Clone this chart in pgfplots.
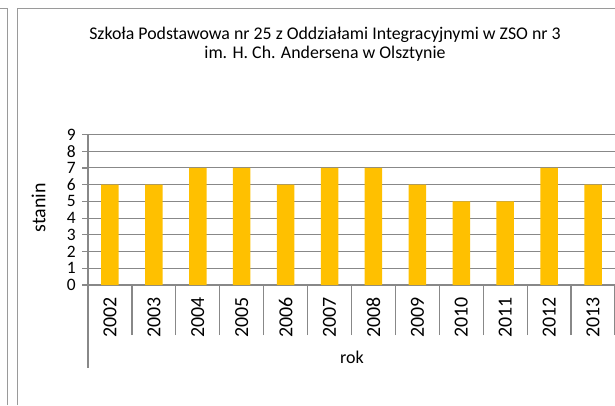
\documentclass[border=0pt]{standalone}
\usepackage{pgfplots}
\pgfplotsset{compat=1.18}
\usepackage{fontspec}
\setmainfont{Carlito}
\definecolor{bargold}{HTML}{FFC000}
\definecolor{axgray}{HTML}{888888}
\definecolor{framegray}{HTML}{9A9A9A}
\begin{document}
\begin{tikzpicture}[x=1bp,y=1bp]
\path[use as bounding box] (0,0) rectangle (615,405);
\begin{scope}
\clip (0,0) rectangle (615,405);
\draw[framegray, line width=1.3bp] (7.5,0) -- (7.5,396.7) -- (-2,396.7);
\draw[framegray, line width=1.3bp] (17.5,0) -- (17.5,396.7) -- (620,396.7);
\begin{axis}[
  at={(88bp,120bp)}, anchor=south west, scale only axis,
  width=527bp, height=150.5bp,
  ybar, bar width=17.5bp,
  xmin=-0.5, xmax=11.5, ymin=0, ymax=9,
  ytick={0,...,9},
  xtick={0,...,11},
  xticklabels={2002,2003,2004,2005,2006,2007,2008,2009,2010,2011,2012,2013},
  minor xtick={-0.5,0.5,...,11.5},
  major x tick style={draw=none},
  minor x tick style={axgray, line width=1.2bp},
  major y tick style={axgray, line width=1.2bp},
  minor tick length=50bp,
  major tick length=6bp,
  tick align=outside,
  axis x line*=bottom, axis y line*=left,
  axis line style={axgray, line width=1.3bp, -},
  ymajorgrids, grid style={axgray, line width=0.9bp},
  yticklabel style={font=\fontsize{17.5}{17.5}\selectfont, inner sep=0bp, xshift=-6bp, /pgf/number format/assume math mode=true},
  xticklabel style={yshift=-6bp, rotate=90, anchor=east, inner sep=0bp, font=\fontsize{20}{20}\selectfont},
  clip=false,
]
\addplot[fill=bargold, draw=none] coordinates {
(0,6) (1,6) (2,7) (3,7) (4,6) (5,7) (6,7) (7,6) (8,5) (9,5) (10,7) (11,6)};
\end{axis}
\draw[axgray, line width=1.2bp] (88,120) -- (88,37);
\node[anchor=base, font=\fontsize{17.9}{20}\selectfont] at (325,366) {Szkoła Podstawowa nr 25 z Oddziałami Integracyjnymi w ZSO nr 3};
\node[anchor=base, font=\fontsize{17.9}{20}\selectfont] at (325,347) {im. H. Ch. Andersena w Olsztynie};
\node[rotate=90, font=\fontsize{20}{20}\selectfont] at (38.5,197) {stanin};
\node[anchor=base, font=\fontsize{18}{18}\selectfont] at (352,42) {rok};
\end{scope}
\end{tikzpicture}
\end{document}
